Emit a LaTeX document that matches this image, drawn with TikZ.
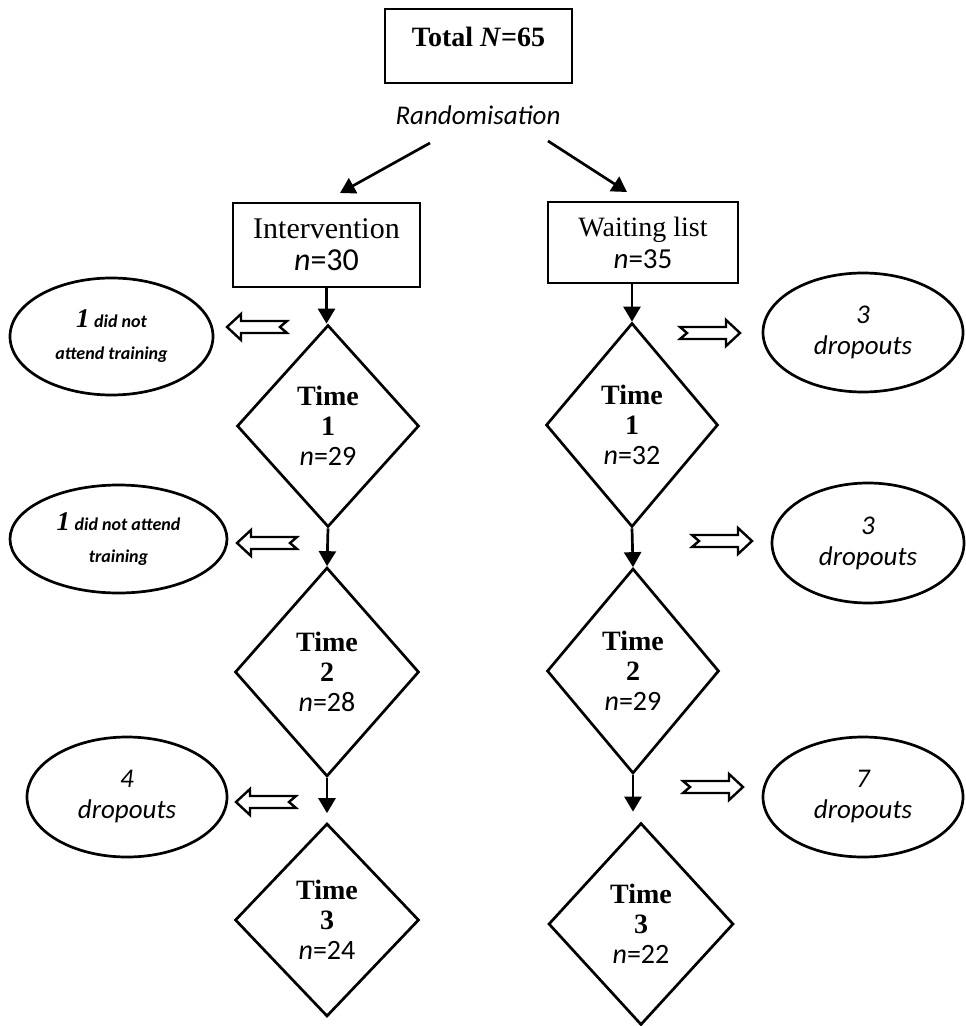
\documentclass[tikz,border=0pt]{standalone}
\usepackage{fontspec}
\setmainfont{Liberation Serif}
\newfontfamily\calib{Carlito}
\usetikzlibrary{shapes.geometric,arrows.meta}

% n-value in the boxes and diamonds
\newcommand\nval[2]{{\calib\mdseries\upshape\fontsize{#2}{15pt}\selectfont\textit{n}=#1}}
% small bold-italic note text
\newcommand\smallnote[1]{{\calib\bfseries\itshape\fontsize{9pt}{16pt}\selectfont #1}}
\newcommand\bignum[1]{{\bfseries\itshape\fontsize{13.5pt}{16pt}\selectfont #1}}

\tikzset{
  base/.style={draw=black, line width=1.35pt},
  bx/.style={base, rectangle, inner sep=0pt, align=center},
  dia/.style={base, diamond, inner sep=0pt, align=center,
    font=\bfseries\fontsize{14pt}{15pt}\selectfont},
  ell/.style={base, ellipse, inner sep=0pt, align=center},
  dropnote/.style={ell, font=\calib\itshape\fontsize{13.5pt}{15.5pt}\selectfont},
  arr/.style={line width=1.35pt, -{Triangle[length=7.5pt,width=8.5pt]}},
  hollowarrow/.pic={
    \draw[line width=1.2pt, fill=white]
      (0,6) -- (46,6) -- (46,13) -- (60,0) -- (46,-13)
      -- (46,-6) -- (0,-6) -- (7,0) -- cycle;
  }
}

\begin{document}
\begin{tikzpicture}[x=0.5pt, y=-0.5pt]
\useasboundingbox[fill=white] (0,0) rectangle (965,1026);

% top of the flow
\node[bx, minimum width=93.5pt, text height=19pt, text depth=18pt,
      font=\bfseries\fontsize{14pt}{16pt}\selectfont]
  (tot) at (478.5,46) {Total \textit{N}=65};
\node[font=\calib\itshape\fontsize{13.5pt}{15pt}\selectfont]
  (rand) at (478,115) {Randomisation};

% groups
\node[bx, minimum width=93.5pt, minimum height=42pt,
      font=\fontsize{15pt}{16pt}\selectfont]
  (int) at (326.5,245) {Intervention\\\nval{30}{16pt}};
\node[bx, minimum width=95pt, minimum height=40.5pt,
      font=\fontsize{14pt}{16pt}\selectfont]
  (wait) at (643,242.5) {Waiting list\\\nval{35}{14.5pt}};

\coordinate (lt) at (430,143);
\coordinate (lh) at (340,193);
\coordinate (rtl) at (548,141);
\coordinate (rh) at (627,192);
\draw[arr] (lt) -- (lh);
\draw[arr] (rtl) -- (rh);

% intervention column
\node[dia, minimum width=91pt, minimum height=101pt]
  (lt1) at (328,426) {Time\\1\\\nval{29}{14pt}};
\node[dia, minimum width=92pt, minimum height=104.5pt]
  (lt2) at (327,672) {Time\\2\\\nval{28}{14pt}};
\node[dia, minimum width=92pt, minimum height=96.5pt]
  (lt3) at (327,920) {Time\\3\\\nval{24}{14pt}};

% waiting-list column
\node[dia, minimum width=86pt, minimum height=102pt]
  (rt1) at (632,425) {Time\\1\\\nval{32}{14pt}};
\node[dia, minimum width=86pt, minimum height=102.5pt]
  (rt2) at (633,671) {Time\\2\\\nval{29}{14pt}};
\node[dia, minimum width=92.5pt, minimum height=101pt]
  (rt3) at (641,924) {Time\\3\\\nval{22}{14pt}};

% vertical flow
\draw[arr] (int.south) -- (int.south |- lt1.north);
\draw[arr] (lt1.south) -- (lt2.north);
\draw[arr, shorten >=4.5pt] (lt2.south) -- (lt2.south |- lt3.north);
\draw[arr] (wait.south -| rt1.north) -- (rt1.north);
\draw[arr] (rt1.south) -- (rt2.north);
\draw[arr, shorten >=5pt] (rt2.south) -- (rt2.south |- rt3.north);

% losses, intervention side
\node[ell, minimum width=101.5pt, minimum height=58.5pt,
      font=\fontsize{9pt}{16pt}\selectfont]
  (le1) at (111.5,336.5) {\bignum{1} \smallnote{did not}\\\smallnote{attend training}};
\node[ell, minimum width=108.5pt, minimum height=54pt,
      font=\fontsize{9pt}{16pt}\selectfont]
  (le2) at (118.5,539) {\bignum{1} \smallnote{did not attend}\\\smallnote{training}};
\node[dropnote, minimum width=100pt, minimum height=60pt]
  (le3) at (127,797) {4\\dropouts};

% losses, waiting-list side
\node[dropnote, minimum width=100pt, minimum height=59.5pt]
  (re1) at (863,332.5) {3\\dropouts};
\node[dropnote, minimum width=96pt, minimum height=60pt]
  (re2) at (868,543) {3\\dropouts};
\node[dropnote, minimum width=100pt, minimum height=60pt]
  (re3) at (863,797) {7\\dropouts};

% hollow block arrows
\pic[rotate=180] at (287,327) {hollowarrow};
\pic[rotate=180] at (297,543) {hollowarrow};
\pic[rotate=180] at (296,802) {hollowarrow};
\pic at (680,333) {hollowarrow};
\pic at (692,541) {hollowarrow};
\pic at (683,787) {hollowarrow};
\end{tikzpicture}
\end{document}
